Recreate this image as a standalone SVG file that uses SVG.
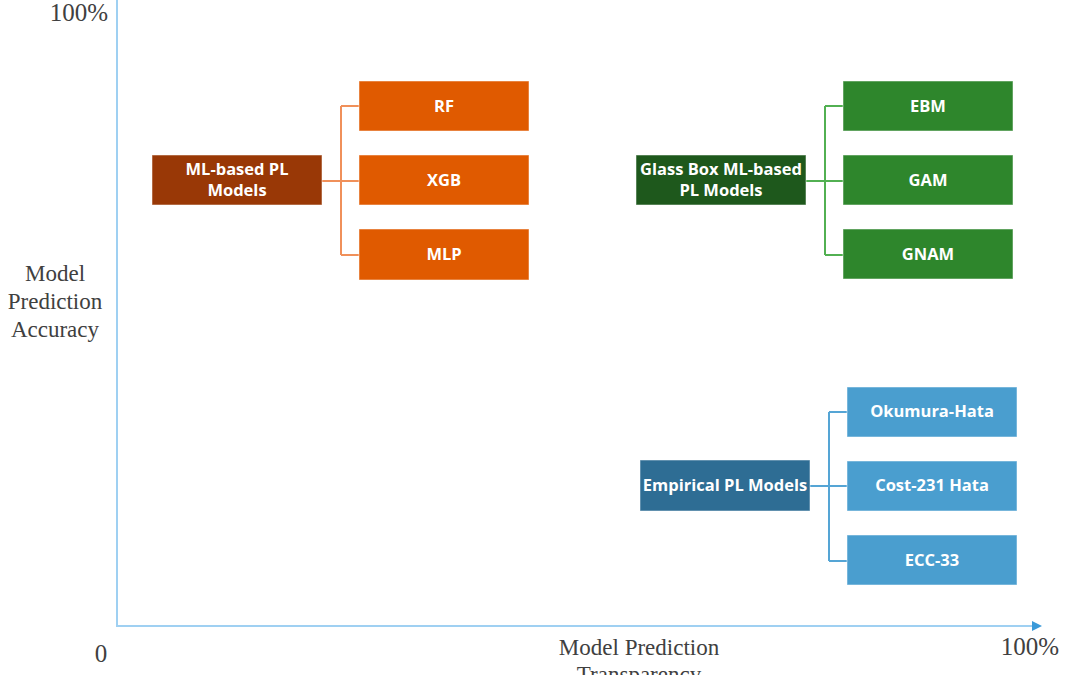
<svg xmlns="http://www.w3.org/2000/svg" width="1080" height="675" viewBox="0 0 1080 675">
<style>
.ax{font-family:"Liberation Serif","Times New Roman",serif;font-size:23px;fill:#404040}
.pc{font-size:25px}
.bt{font-family:"Open Sans","Liberation Sans",sans-serif;font-weight:bold;font-size:16.5px;fill:#ffffff;text-anchor:middle}
.box{stroke:#ffffff;stroke-opacity:0.5;stroke-width:1}
.con{fill:none;stroke-width:2}
</style>
<defs>
<marker id="arr" markerWidth="10" markerHeight="10" refX="8" refY="5" orient="auto" markerUnits="userSpaceOnUse">
<path d="M0,0 L10,5 L0,10 z" fill="#3a9ad9"/>
</marker>
</defs>
<rect width="1080" height="675" fill="#ffffff"/>
<g id="axes">
<line x1="117" y1="0" x2="117" y2="627" stroke="#9fd0f2" stroke-width="2"/>
<line x1="116" y1="626" x2="1040" y2="626" stroke="#9fd0f2" stroke-width="2" marker-end="url(#arr)"/>
<text class="ax pc" x="108" y="21" text-anchor="end">100%</text>
<text class="ax" x="55" y="281" text-anchor="middle">Model</text>
<text class="ax" x="55" y="309" text-anchor="middle">Prediction</text>
<text class="ax" x="55" y="337" text-anchor="middle">Accuracy</text>
<text class="ax pc" x="101" y="662" text-anchor="middle">0</text>
<text class="ax" x="639" y="655" text-anchor="middle">Model Prediction</text>
<text class="ax" x="639" y="682" text-anchor="middle">Transparency</text>
<text class="ax pc" x="1030" y="655" text-anchor="middle">100%</text>
</g>
<g id="connectors">
<path class="con" stroke="#f0905a" d="M322,181 H341 M341,106 V255 M341,106 H359 M341,181 H359 M341,255 H359"/>
<path class="con" stroke="#52b052" d="M806,181 H825 M825,106 V255 M825,106 H843 M825,181 H843 M825,255 H843"/>
<path class="con" stroke="#55a5d5" d="M810,486 H829 M829,412 V561 M829,412 H847 M829,486 H847 M829,561 H847"/>
</g>
<g id="ml-based">
<rect class="box" x="152" y="155" width="170" height="50" fill="#993806"/>
<text class="bt" x="237" y="175">ML-based PL</text>
<text class="bt" x="237" y="196">Models</text>
</g>
<g id="rf"><rect class="box" x="359" y="81" width="170" height="50" fill="#e05a00"/><text class="bt" x="444" y="112">RF</text></g>
<g id="xgb"><rect class="box" x="359" y="155" width="170" height="50" fill="#e05a00"/><text class="bt" x="444" y="186">XGB</text></g>
<g id="mlp"><rect class="box" x="359" y="229" width="170" height="51" fill="#e05a00"/><text class="bt" x="444" y="260">MLP</text></g>
<g id="glass-box">
<rect class="box" x="636" y="155" width="170" height="50" fill="#1e581c"/>
<text class="bt" x="721" y="175">Glass Box ML-based</text>
<text class="bt" x="721" y="196">PL Models</text>
</g>
<g id="ebm"><rect class="box" x="843" y="81" width="170" height="50" fill="#2e862c"/><text class="bt" x="928" y="112">EBM</text></g>
<g id="gam"><rect class="box" x="843" y="155" width="170" height="50" fill="#2e862c"/><text class="bt" x="928" y="186">GAM</text></g>
<g id="gnam"><rect class="box" x="843" y="229" width="170" height="50" fill="#2e862c"/><text class="bt" x="928" y="260">GNAM</text></g>
<g id="empirical">
<rect class="box" x="640" y="460" width="170" height="51" fill="#2e6d94"/>
<text class="bt" x="725" y="491">Empirical PL Models</text>
</g>
<g id="okumura"><rect class="box" x="847" y="387" width="170" height="50" fill="#4a9ecf"/><text class="bt" x="932" y="417">Okumura-Hata</text></g>
<g id="cost231"><rect class="box" x="847" y="461" width="170" height="50" fill="#4a9ecf"/><text class="bt" x="932" y="491">Cost-231 Hata</text></g>
<g id="ecc33"><rect class="box" x="847" y="535" width="170" height="50" fill="#4a9ecf"/><text class="bt" x="932" y="566">ECC-33</text></g>
</svg>
